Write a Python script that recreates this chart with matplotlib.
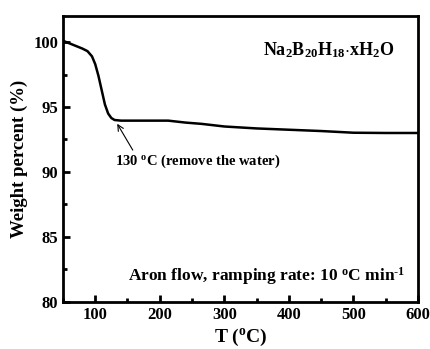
import numpy as np
import matplotlib
matplotlib.use("Agg")
import matplotlib.pyplot as plt
from matplotlib.ticker import MultipleLocator

# TGA curve of Na2B20H18.xH2O
temp = [50, 60, 70, 80, 88, 95, 100, 105, 110, 115, 120, 125, 130, 140, 160, 190, 213,
        240, 265, 300, 350, 400, 450, 500, 550, 600]
weight = [100.1, 99.9, 99.7, 99.5, 99.3, 98.9, 98.3, 97.4, 96.3, 95.2, 94.5, 94.15, 94.0,
          93.95, 93.95, 93.95, 93.95, 93.8, 93.7, 93.5, 93.35, 93.25, 93.15, 93.02, 93.0, 93.0]

plt.rcParams['font.family'] = 'Liberation Serif'
plt.rcParams['font.weight'] = 'bold'
plt.rcParams['mathtext.fontset'] = 'custom'
plt.rcParams['mathtext.rm'] = 'Liberation Serif:bold'
plt.rcParams['mathtext.it'] = 'Liberation Serif:bold'
plt.rcParams['mathtext.bf'] = 'Liberation Serif:bold'

fig = plt.figure(figsize=(4.31, 3.49), dpi=100)
ax = fig.add_axes([0.146, 0.135, 0.824, 0.819])

ax.plot(temp, weight, color='black', lw=1.8)

ax.set_xlim(50, 600)
ax.set_ylim(80, 102)
ax.xaxis.set_major_locator(MultipleLocator(100))
ax.xaxis.set_minor_locator(MultipleLocator(50))
ax.yaxis.set_major_locator(MultipleLocator(5))
ax.yaxis.set_minor_locator(MultipleLocator(2.5))
ax.tick_params(which='both', direction='in', width=2, labelsize=12)
ax.tick_params(which='major', length=5)
ax.tick_params(which='minor', length=3)
for s in ax.spines.values():
    s.set_linewidth(2)

ax.set_xlabel(r'T ($^{\rm o}$C)', fontsize=14, fontweight='bold', labelpad=3)
ax.set_ylabel('Weight percent (%)', fontsize=13.5, fontweight='bold', labelpad=4)

ax.text(563, 99.4, r'Na$_2$B$_{20}$H$_{18}$$\cdot$xH$_2$O', fontsize=13,
        ha='right', va='center')
ax.annotate(r'130 $^{\rm o}$C (remove the water)', xy=(133, 93.8), xytext=(130, 90.8),
            fontsize=10.5, va='center', ha='left',
            arrowprops=dict(arrowstyle='->', color='black', lw=0.8,
                            shrinkA=0, shrinkB=1, relpos=(0.12, 1.0)))
ax.text(581, 82.0, 'Aron flow, ramping rate: 10 $^{\\rm o}$C min$^{\\rm \u20101}$',
        fontsize=12.5, ha='right', va='center')

fig.savefig('out.png', dpi=100)
